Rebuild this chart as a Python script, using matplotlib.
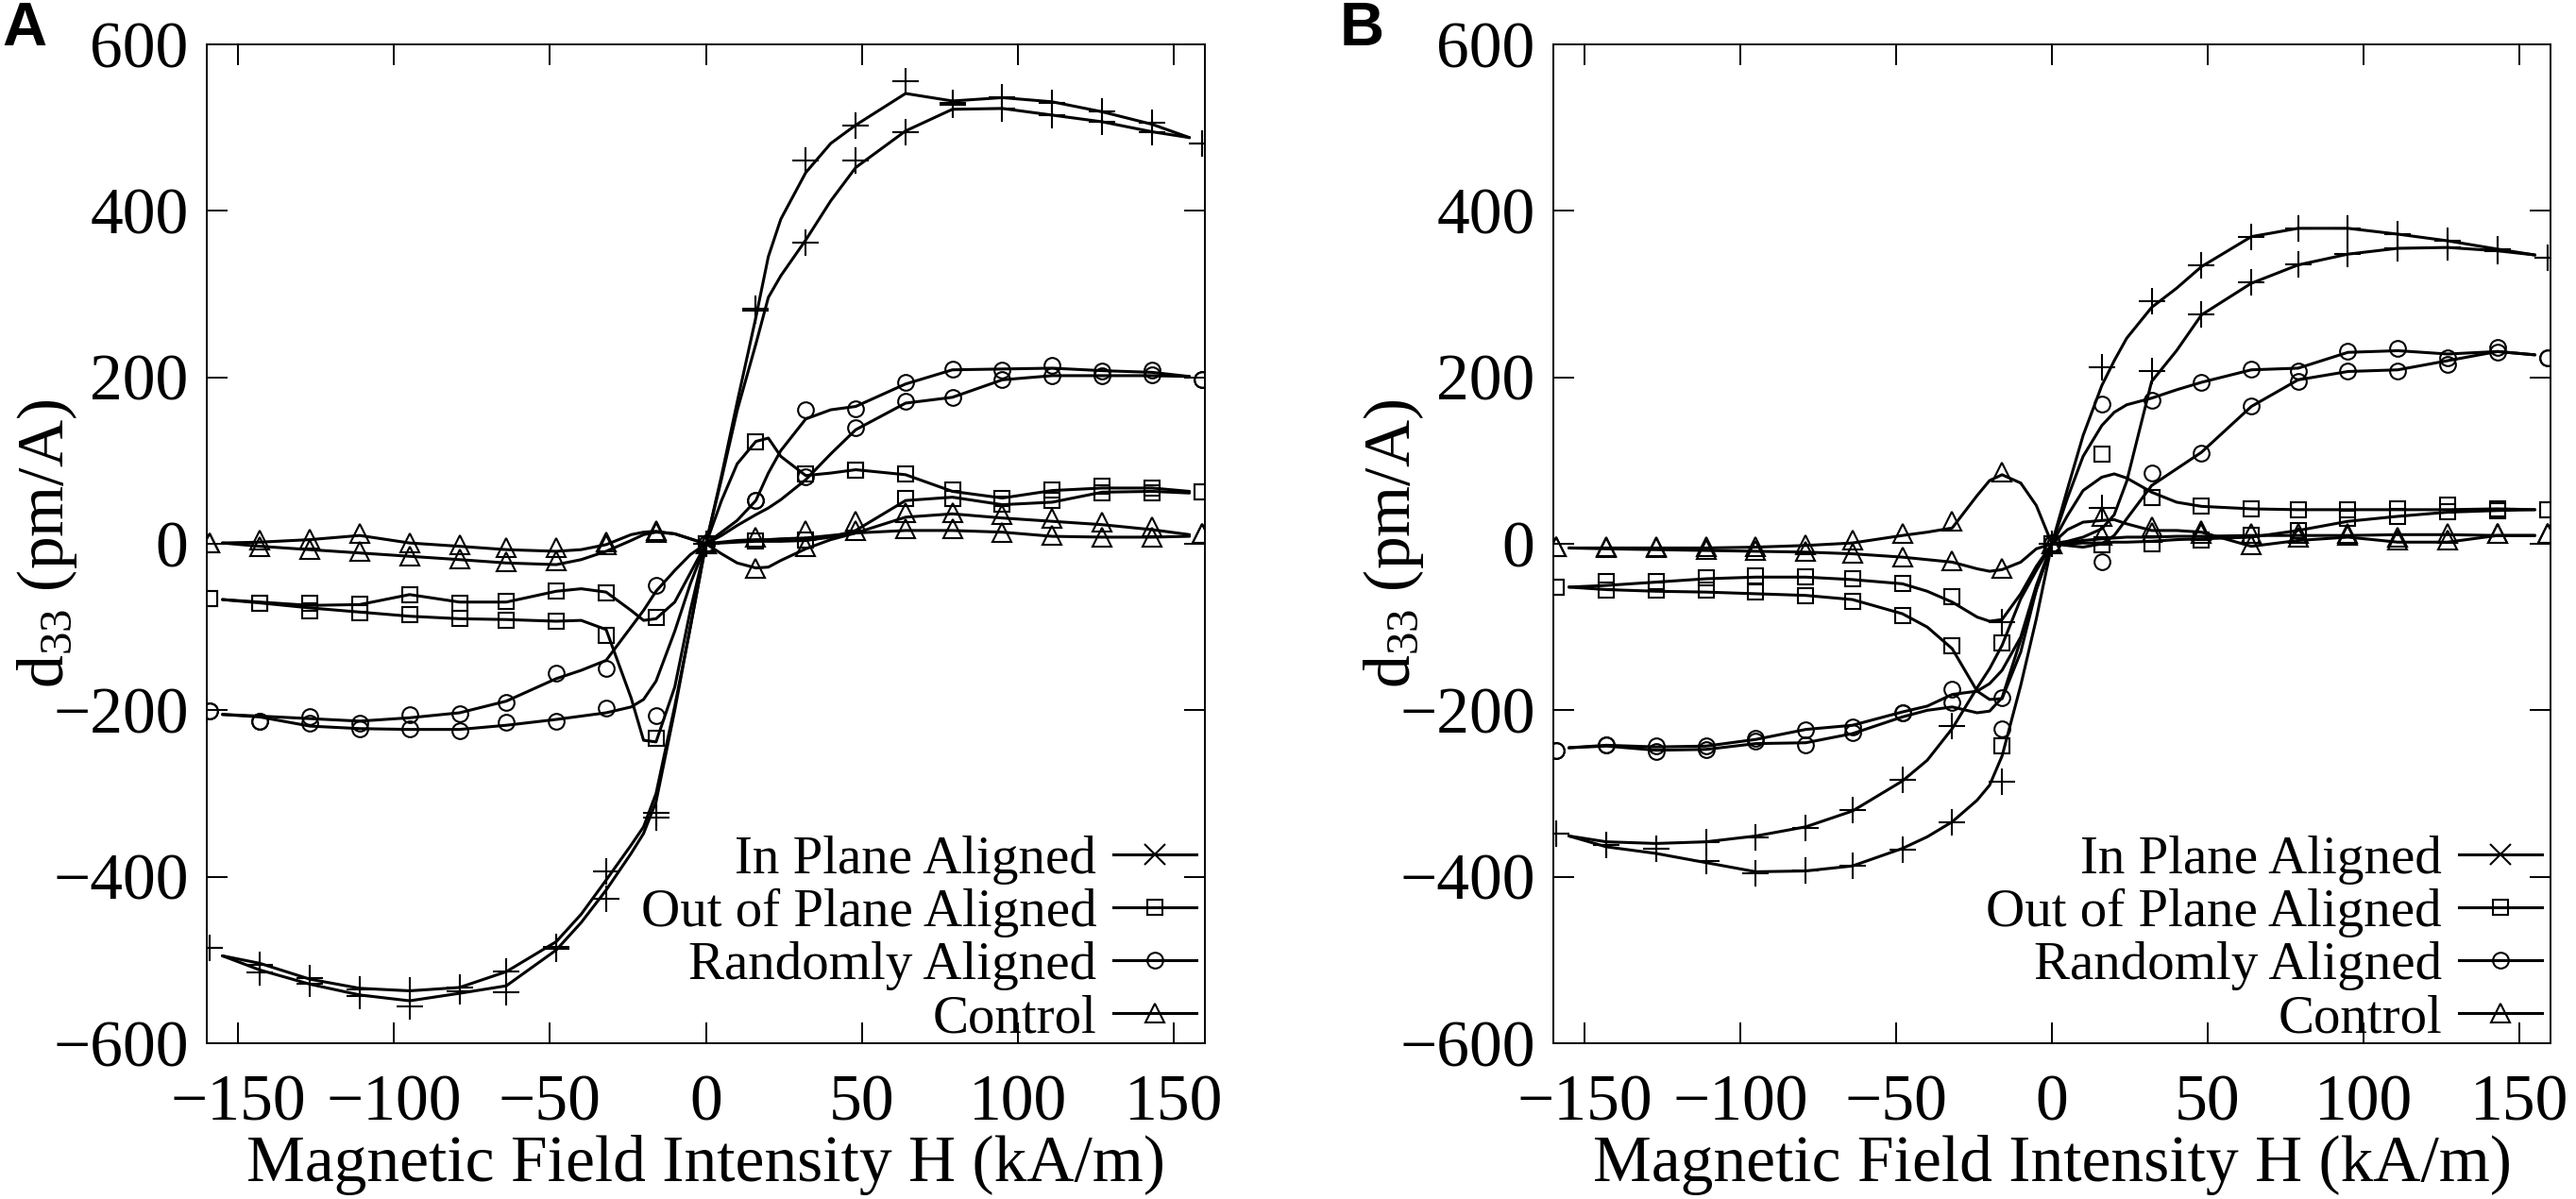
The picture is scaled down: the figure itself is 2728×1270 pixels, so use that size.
import matplotlib
matplotlib.use('Agg')
import matplotlib.pyplot as plt
from matplotlib.lines import Line2D

plt.rcParams['font.family'] = ['Liberation Serif', 'DejaVu Serif']
plt.rcParams['mathtext.fontset'] = 'custom'
plt.rcParams['mathtext.rm'] = 'Liberation Serif'
plt.rcParams['mathtext.it'] = 'Liberation Serif:italic'

# field values where the markers sit, and where the smoothed curves were read
H_MARK = [-159, -143, -127, -111, -95, -79, -64, -48, -32, -16, 0,
          16, 32, 48, 64, 79, 95, 111, 127, 143, 159]
H_LINE = [-155, -143, -127, -111, -95, -79, -64, -48, -40, -32, -24, -20, -16, -10, -5, 0,
          5, 10, 16, 20, 24, 32, 40, 48, 64, 79, 95, 111, 127, 143, 155]

LABELS = ['In Plane Aligned', 'Out of Plane Aligned', 'Randomly Aligned', 'Control']

# ---- panel A ----
A_IP_LINE_1 = [-495, -504, -523, -534, -537, -533, -514, -478, -445, -404, -362, -340, -300, -195, -100, 0,
               82, 170, 272, 345, 390, 446, 481, 503, 541, 532, 536, 531, 519, 504, 488]
A_IP_LINE_2 = [-495, -512, -529, -542, -549, -540, -531, -488, -455, -416, -372, -348, -310, -200, -100, 0,
               78, 160, 240, 296, 322, 365, 412, 452, 496, 522, 523, 515, 507, 495, 488]
A_IP_MARK_1 = [-485, -506, -522, -535, -537, -533, -514, -484, -393, -323, 0,
               282, 461, 503, 556, 530, 537, 530, 519, 506, 481]
A_IP_MARK_2 = [-485, -515, -528, -543, -556, -538, -539, -486, -426, -329, 0,
               280, 362, 460, 495, 527, 523, 515, 507, 495, 481]

A_OP_LINE_1 = [-67, -70, -74, -73, -61, -70, -70, -57, -54, -58, -80, -92, -90, -70, -35, 0,
               52, 96, 123, 127, 105, 82, 85, 89, 83, 63, 55, 64, 67, 67, 63]
A_OP_LINE_2 = [-67, -71, -77, -82, -87, -90, -91, -93, -92, -103, -185, -236, -238, -172, -80, 0,
               1, 2, 3, 3, 3, 4, 8, 16, 52, 56, 47, 50, 62, 63, 61]
A_OP_MARK_1 = [-66, -71, -71, -73, -61, -71, -69, -57, -59, -89, 0,
               122, 84, 89, 84, 65, 55, 65, 69, 67, 62]
A_OP_MARK_2 = [-66, -71, -80, -83, -85, -90, -92, -93, -110, -234, 0,
               3, 4, 89, 55, 54, 48, 52, 61, 61, 62]

A_RA_LINE_1 = [-205, -207, -210, -213, -209, -203, -189, -162, -152, -140, -100, -80, -57, -32, -13, 0,
               14, 28, 52, 85, 112, 150, 161, 165, 192, 209, 210, 211, 208, 206, 201]
A_RA_LINE_2 = [-205, -208, -219, -222, -223, -223, -218, -211, -207, -203, -196, -187, -165, -105, -48, 0,
               10, 22, 35, 43, 53, 77, 108, 137, 169, 176, 197, 202, 202, 202, 201]
A_RA_MARK_1 = [-201, -213, -208, -215, -205, -204, -190, -155, -150, -50, 0,
               52, 161, 162, 194, 210, 209, 214, 208, 209, 197]
A_RA_MARK_2 = [-201, -213, -216, -222, -222, -225, -214, -213, -197, -206, 0,
               52, 80, 140, 171, 176, 197, 202, 202, 203, 197]

A_CT_LINE_1 = [1, 2, 5, 10, 1, -3, -7, -9, -7, -1, 11, 14, 15, 12, 6, 0,
               -12, -23, -29, -28, -20, -6, 5, 13, 32, 36, 31, 27, 23, 17, 11]
A_CT_LINE_2 = [1, -3, -7, -11, -15, -19, -23, -25, -19, -9, 4, 11, 14, 12, 6, 0,
               2, 4, 5, 5, 6, 7, 10, 13, 16, 16, 14, 9, 8, 8, 9]
A_CT_MARK_1 = [1, 5, 6, 12, 1, -1, -5, -5, 2, 16, 0,
               -30, 16, 27, 37, 37, 35, 31, 26, 20, 12]
A_CT_MARK_2 = [1, -3, -7, -9, -15, -18, -22, -20, -1, 14, 0,
               8, -3, 16, 18, 18, 14, 10, 8, 8, 12]

# ---- panel B ----
B_IP_LINE_1 = [-351, -358, -360, -358, -351, -340, -321, -285, -260, -222, -173, -150, -122, -66, -32, 0,
               66, 130, 190, 220, 247, 284, 307, 333, 369, 379, 379, 372, 364, 354, 347]
B_IP_LINE_2 = [-351, -364, -372, -383, -394, -393, -387, -366, -352, -334, -308, -290, -255, -170, -90, 0,
               3, 8, 18, 35, 75, 195, 232, 275, 313, 335, 348, 355, 356, 352, 347]
B_IP_MARK_1 = [-348, -362, -366, -358, -353, -341, -320, -283, -219, -94, 0,
               212, 292, 335, 369, 379, 379, 372, 364, 354, 344]
B_IP_MARK_2 = [-348, -362, -366, -381, -396, -392, -387, -367, -335, -286, 0,
               43, 208, 276, 314, 336, 348, 355, 356, 352, 344]

B_OP_LINE_1 = [-52, -50, -46, -42, -40, -40, -43, -48, -57, -70, -88, -93, -91, -60, -27, 0,
               34, 64, 80, 84, 79, 62, 50, 45, 42, 41, 41, 41, 41, 42, 41]
B_OP_LINE_2 = [-52, -55, -57, -58, -60, -62, -67, -84, -100, -126, -177, -187, -186, -130, -55, 0,
               0, 1, 1, 2, 2, 3, 5, 6, 8, 16, 27, 33, 38, 40, 41]
B_OP_MARK_1 = [-52, -45, -45, -41, -39, -40, -42, -48, -64, -119, 0,
               108, 56, 45, 42, 41, 41, 42, 46, 42, 41]
B_OP_MARK_2 = [-52, -56, -56, -56, -58, -62, -69, -86, -123, -243, 0,
               -1, 0, 5, 10, 16, 31, 33, 39, 40, 41]

B_RA_LINE_1 = [-245, -242, -244, -243, -235, -223, -218, -202, -195, -181, -177, -168, -152, -112, -50, 0,
               55, 105, 142, 158, 167, 175, 185, 194, 209, 211, 230, 232, 228, 231, 227]
B_RA_LINE_2 = [-245, -243, -248, -247, -240, -239, -228, -208, -200, -196, -203, -201, -185, -115, -55, 0,
               -2, -4, 0, 10, 30, 70, 90, 110, 165, 197, 207, 209, 220, 231, 227]
B_RA_MARK_1 = [-248, -242, -243, -243, -234, -223, -220, -203, -175, -185, 0,
               168, 172, 194, 210, 207, 231, 235, 223, 236, 223]
B_RA_MARK_2 = [-248, -242, -249, -247, -237, -242, -227, -203, -190, -222, 0,
               -21, 85, 109, 166, 195, 208, 208, 216, 230, 223]

B_CT_LINE_1 = [-5, -5, -5, -5, -4, -2, 1, 10, 14, 19, 58, 76, 83, 73, 46, 0,
               17, 26, 28, 29, 24, 16, 16, 14, -3, 4, 8, 2, 2, 10, 10]
B_CT_LINE_2 = [-5, -6, -7, -8, -9, -10, -12, -16, -19, -22, -30, -33, -31, -22, -6, 0,
               2, 4, 6, 7, 8, 8, 9, 9, 10, 10, 10, 11, 11, 10, 10]
B_CT_MARK_1 = [-3, -3, -3, -3, -3, -1, 5, 12, 27, 86, 0,
               33, 20, 16, 12, 8, 12, 8, 12, 13, 13]
B_CT_MARK_2 = [-3, -4, -4, -7, -8, -9, -11, -16, -20, -30, 0,
               10, 14, 12, -1, 12, 10, 5, 5, 13, 13]

# marker used on the curves, marker shown in the key, marker size
STYLES = [('+', 'x', 20), ('s', 's', 12), ('o', 'o', 12), ('^', '^', 15)]

PANEL_A = [((A_IP_LINE_1, A_IP_LINE_2), (A_IP_MARK_1, A_IP_MARK_2)),
           ((A_OP_LINE_1, A_OP_LINE_2), (A_OP_MARK_1, A_OP_MARK_2)),
           ((A_RA_LINE_1, A_RA_LINE_2), (A_RA_MARK_1, A_RA_MARK_2)),
           ((A_CT_LINE_1, A_CT_LINE_2), (A_CT_MARK_1, A_CT_MARK_2))]
PANEL_B = [((B_IP_LINE_1, B_IP_LINE_2), (B_IP_MARK_1, B_IP_MARK_2)),
           ((B_OP_LINE_1, B_OP_LINE_2), (B_OP_MARK_1, B_OP_MARK_2)),
           ((B_RA_LINE_1, B_RA_LINE_2), (B_RA_MARK_1, B_RA_MARK_2)),
           ((B_CT_LINE_1, B_CT_LINE_2), (B_CT_MARK_1, B_CT_MARK_2))]

LW = 2.2
FS = 50


def draw_panel(ax, panel):
    for (lines, marks), (mk, key_mk, ms) in zip(panel, STYLES):
        for ly in lines:
            ax.plot(H_LINE, ly, color='black', lw=LW, solid_joinstyle='round', solid_capstyle='round')
        for my in marks:
            ax.plot(H_MARK, my, ls='none', marker=mk, ms=ms, mfc='none', mec='black', mew=1.5)

    ax.set_xlim(-160, 160)
    ax.set_ylim(-600, 600)
    ax.set_xticks([-150, -100, -50, 0, 50, 100, 150])
    ax.set_yticks([-600, -400, -200, 0, 200, 400, 600])
    ax.tick_params(direction='in', length=16, width=1.4, top=True, right=True, labelsize=FS)
    ax.tick_params(axis='x', pad=24)
    ax.tick_params(axis='y', pad=14)
    for s in ax.spines.values():
        s.set_linewidth(1.4)
    ax.set_xlabel('Magnetic Field Intensity H (kA/m)', fontsize=FS, labelpad=0)
    ax.set_ylabel(r'd$_{33}$ (pm/A)', fontsize=FS)
    ax.yaxis.set_label_coords(-0.128, 0.5)

    handles = [Line2D([], [], color='black', lw=LW, marker=key_mk, ms=ms if key_mk != 'x' else 16,
                      mfc='none', mec='black', mew=1.5)
               for mk, key_mk, ms in STYLES]
    ax.legend(handles, LABELS, loc='lower right', bbox_to_anchor=(0.9915, 0.0),
              markerfirst=False, frameon=False, fontsize=41, handlelength=1.55,
              handletextpad=0.31, labelspacing=0.07, borderpad=0, borderaxespad=0)


fig = plt.figure(figsize=(27.28, 12.70), dpi=100)
ax_a = fig.add_axes([0.0803, 0.1299, 0.3875, 0.8331])
ax_b = fig.add_axes([0.6030, 0.1299, 0.3871, 0.8331])
draw_panel(ax_a, PANEL_A)
draw_panel(ax_b, PANEL_B)

fig.text(0.001, 0.999, 'A', fontsize=47, fontweight='bold', family='Liberation Sans', va='top', ha='left')
fig.text(0.520, 0.999, 'B', fontsize=47, fontweight='bold', family='Liberation Sans', va='top', ha='left')

fig.savefig('out.png', dpi=100)
